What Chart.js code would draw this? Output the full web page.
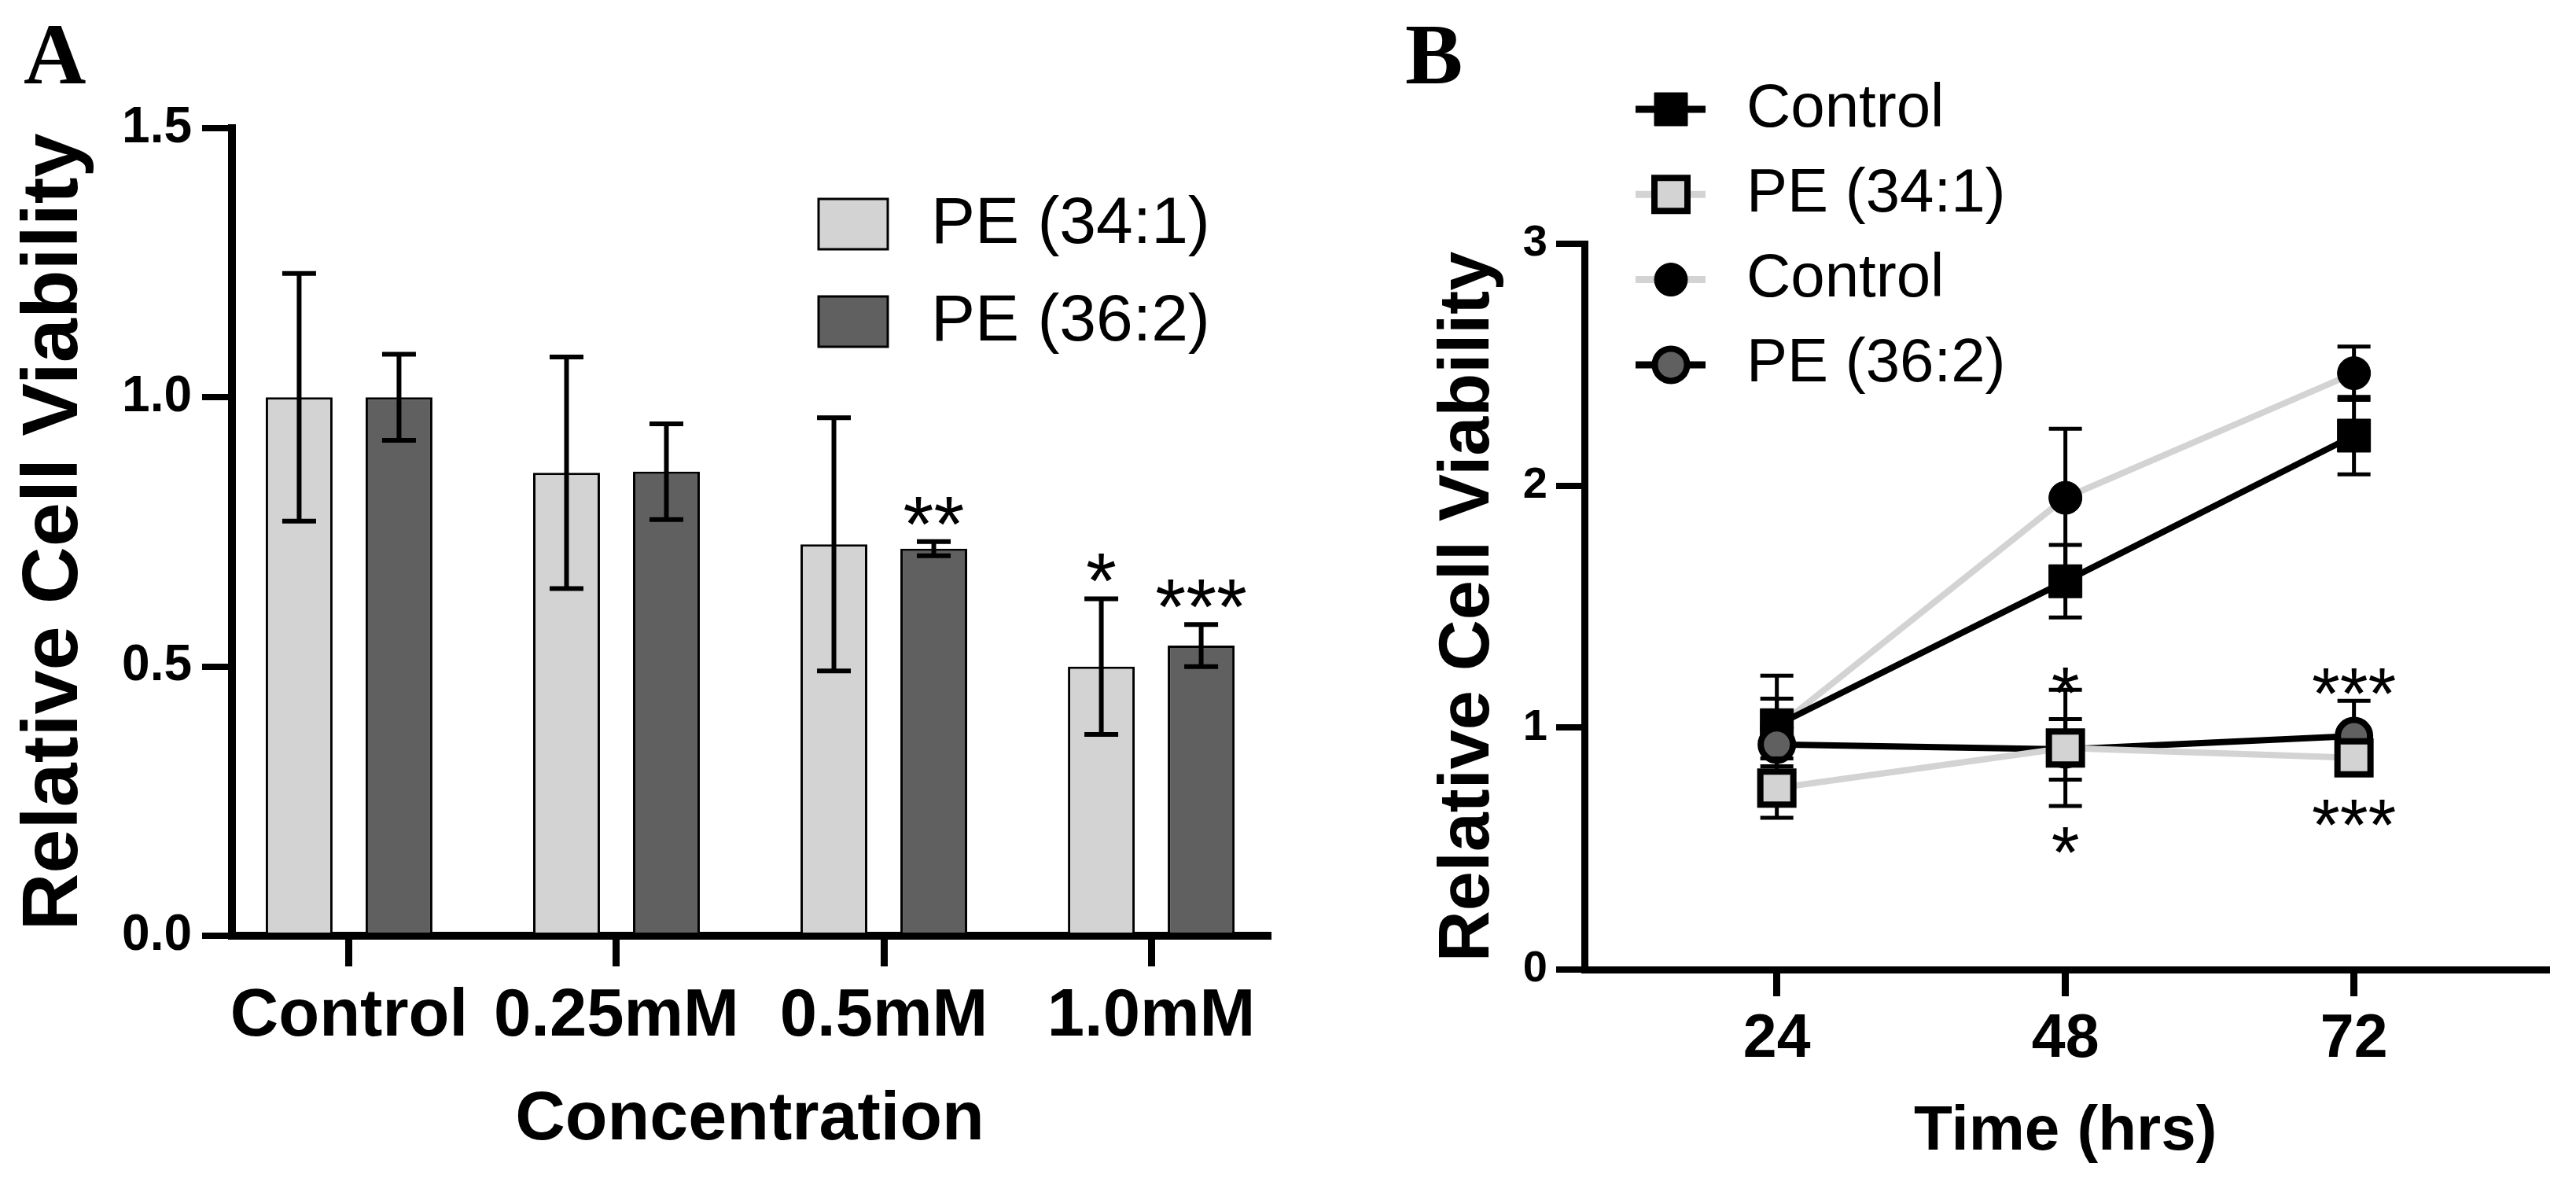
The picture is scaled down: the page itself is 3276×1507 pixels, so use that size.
<!DOCTYPE html>
<html>
<head>
<meta charset="utf-8">
<title>Relative Cell Viability</title>
<script src="https://cdn.jsdelivr.net/npm/chart.js@4.4.1/dist/chart.umd.min.js"></script>
<style>
  html, body { margin: 0; padding: 0; background: #fff; }
  body { width: 3276px; height: 1507px; position: relative; overflow: hidden; }
  #panelA { position: absolute; left: 0; top: 0; }
  #panelB { position: absolute; left: 1650px; top: 0; }
</style>
</head>
<body>
<canvas id="panelA" width="1650" height="1507"></canvas>
<canvas id="panelB" width="1626" height="1507"></canvas>
<script>
/* ---- Panel A data (bars, mean +/- error) ---- */
const concentrations = ['Control', '0.25mM', '0.5mM', '1.0mM'];
const pe341Mean = [1.00, 0.86, 0.727, 0.50];
const pe341Err  = [0.23, 0.215, 0.235, 0.126];
const pe362Mean = [1.00, 0.862, 0.719, 0.539];
const pe362Err  = [0.08, 0.089, 0.013, 0.039];
const pe341Stars = ['', '', '', '*'];
const pe362Stars = ['', '', '**', '***'];
const yTicksA = [0, 0.5, 1.0, 1.5];

/* ---- Panel B data (time course, mean +/- error) ---- */
const times = [24, 48, 72];
const ctrlSqMean = [1.01, 1.605, 2.207];
const ctrlSqErr  = [0.11, 0.15, 0.16];
const pe341TMean = [0.75, 0.916, 0.875];
const pe341TErr  = [0.123, 0.24, 0.04];
const ctrlCiMean = [1.00, 1.95, 2.465];
const ctrlCiErr  = [0.215, 0.285, 0.11];
const pe362TMean = [0.93, 0.91, 0.965];
const pe362TErr  = [0.09, 0.125, 0.146];
const yTicksB = [0, 1, 2, 3];
const starTimes  = [48, 48, 72, 72];
const starLevels = [1.21, 0.55, 1.207, 0.663];
const starText   = ['*', '*', '***', '***'];

const LIGHT = '#d3d3d3';
const DARK = '#606060';
const SANS = "'Liberation Sans', Arial, Helvetica, sans-serif";
const SERIF = "'Liberation Serif', 'Times New Roman', serif";

Chart.defaults.font.family = SANS;
Chart.defaults.color = '#000';

function drawMarker(ctx, style, x, y, r, fill, stroke, bw) {
    ctx.beginPath();
    if (style === 'rect') {
        const h = r * Math.SQRT1_2;
        ctx.rect(x - h, y - h, 2 * h, 2 * h);
    } else {
        ctx.arc(x, y, r, 0, Math.PI * 2);
    }
    ctx.fillStyle = fill;
    ctx.fill();
    if (bw > 0) {
        ctx.lineWidth = bw;
        ctx.strokeStyle = stroke;
        ctx.stroke();
    }
}

function errorBar(ctx, x, yTop, yBottom, halfCap, width) {
    ctx.lineWidth = width;
    ctx.strokeStyle = '#000';
    ctx.lineCap = 'butt';
    ctx.beginPath();
    ctx.moveTo(x, yTop);
    ctx.lineTo(x, yBottom);
    ctx.moveTo(x - halfCap, yTop);
    ctx.lineTo(x + halfCap, yTop);
    ctx.moveTo(x - halfCap, yBottom);
    ctx.lineTo(x + halfCap, yBottom);
    ctx.stroke();
}

/* error bars, asterisks, legend and panel letter for A */
const panelAExtras = {
    id: 'panelAExtras',
    afterDatasetsDraw(chart) {
        const ctx = chart.ctx;
        const y = chart.scales.y;
        ctx.save();
        chart.data.datasets.forEach((ds, di) => {
            const meta = chart.getDatasetMeta(di);
            meta.data.forEach((bar, i) => {
                const v = ds.data[i].y;
                const top = y.getPixelForValue(v + ds.errors[i]);
                const bottom = y.getPixelForValue(v - ds.errors[i]);
                errorBar(ctx, bar.x, top, bottom, 21.5, 6);
                if (ds.stars[i]) {
                    ctx.font = '100px ' + SANS;
                    ctx.fillStyle = '#000';
                    ctx.textAlign = 'center';
                    ctx.textBaseline = 'alphabetic';
                    ctx.fillText(ds.stars[i], bar.x, top + 12);
                }
            });
        });
        ctx.restore();
    },
    afterDraw(chart) {
        const ctx = chart.ctx;
        ctx.save();
        chart.data.datasets.forEach((ds, i) => {
            const top = 253 + i * 124;
            ctx.fillStyle = ds.backgroundColor;
            ctx.fillRect(1041, top, 88, 64);
            ctx.lineWidth = 3;
            ctx.strokeStyle = '#000';
            ctx.strokeRect(1041, top, 88, 64);
            ctx.fillStyle = '#000';
            ctx.font = '84px ' + SANS;
            ctx.textAlign = 'left';
            ctx.textBaseline = 'middle';
            ctx.fillText(ds.label, 1184, top + 33);
        });
        ctx.font = 'bold 110px ' + SERIF;
        ctx.textAlign = 'left';
        ctx.textBaseline = 'alphabetic';
        ctx.fillText('A', 30, 106);
        ctx.restore();
    }
};

new Chart(document.getElementById('panelA'), {
    type: 'bar',
    data: {
        datasets: [{
            label: 'PE (34:1)',
            data: concentrations.map((c, i) => ({ x: i, y: pe341Mean[i] })),
            errors: pe341Err,
            stars: pe341Stars,
            backgroundColor: LIGHT,
            borderColor: '#000',
            borderWidth: 3,
            categoryPercentage: 0.747,
            barPercentage: 0.669
        }, {
            label: 'PE (36:2)',
            data: concentrations.map((c, i) => ({ x: i, y: pe362Mean[i] })),
            errors: pe362Err,
            stars: pe362Stars,
            backgroundColor: DARK,
            borderColor: '#000',
            borderWidth: 3,
            categoryPercentage: 0.747,
            barPercentage: 0.669
        }]
    },
    options: {
        responsive: false,
        animation: false,
        devicePixelRatio: 1,
        layout: { padding: { left: 0, right: 38, top: 163, bottom: 0 } },
        plugins: { legend: { display: false }, tooltip: { enabled: false } },
        scales: {
            x: {
                type: 'linear',
                min: -0.438,
                max: 3.435,
                offset: false,
                afterBuildTicks: s => { s.ticks = concentrations.map((c, i) => ({ value: i })); },
                afterFit: s => { s.height = 1507 - 1190; },
                ticks: {
                    callback: v => concentrations[v],
                    font: { size: 85, weight: 'bold' },
                    color: '#000',
                    padding: 14,
                    maxRotation: 0,
                    autoSkip: false
                },
                grid: { offset: false, drawOnChartArea: false, tickLength: 39, tickWidth: 9, lineWidth: 9, tickColor: '#000' },
                border: { color: '#000', width: 10 },
                title: {
                    display: true,
                    text: 'Concentration',
                    font: { size: 88, weight: 'bold' },
                    color: '#000',
                    padding: { top: 0, bottom: 29 }
                }
            },
            y: {
                min: 0,
                max: 1.5,
                afterBuildTicks: s => { s.ticks = yTicksA.map(v => ({ value: v })); },
                afterFit: s => { s.width = 295; },
                ticks: {
                    callback: v => v.toFixed(1),
                    font: { size: 64, weight: 'bold' },
                    color: '#000',
                    padding: 13
                },
                grid: { drawOnChartArea: false, tickLength: 38, tickWidth: 8, lineWidth: 8, tickColor: '#000' },
                border: { color: '#000', width: 10 },
                title: {
                    display: true,
                    text: 'Relative Cell Viability',
                    font: { size: 101, weight: 'bold' },
                    color: '#000',
                    padding: { top: 10, bottom: 0 }
                }
            }
        }
    },
    plugins: [panelAExtras]
});

/* error bars (under each series), asterisks, legend and letter for B */
const panelBExtras = {
    id: 'panelBExtras',
    beforeDatasetDraw(chart, args) {
        const ctx = chart.ctx;
        const ds = chart.data.datasets[args.index];
        const y = chart.scales.y;
        ctx.save();
        args.meta.data.forEach((pt, i) => {
            const v = ds.data[i].y;
            errorBar(ctx, pt.x, y.getPixelForValue(v + ds.errors[i]), y.getPixelForValue(v - ds.errors[i]), 21, 5);
        });
        ctx.restore();
    },
    afterDatasetsDraw(chart) {
        const ctx = chart.ctx;
        const x = chart.scales.x;
        const y = chart.scales.y;
        ctx.save();
        ctx.font = '92px ' + SANS;
        ctx.fillStyle = '#000';
        ctx.textAlign = 'center';
        ctx.textBaseline = 'alphabetic';
        starText.forEach((s, i) => {
            ctx.fillText(s, x.getPixelForValue(starTimes[i]), y.getPixelForValue(starLevels[i]) + 0.57 * 92);
        });
        ctx.restore();
    },
    afterDraw(chart) {
        const ctx = chart.ctx;
        ctx.save();
        chart.data.datasets.forEach((ds, i) => {
            const rowY = 139 + i * 108.3;
            ctx.strokeStyle = ds.borderColor;
            ctx.lineWidth = 9;
            ctx.beginPath();
            ctx.moveTo(430, rowY);
            ctx.lineTo(519, rowY);
            ctx.stroke();
            drawMarker(ctx, ds.pointStyle, 475, rowY, ds.pointRadius,
                ds.pointBackgroundColor, ds.pointBorderColor, ds.pointBorderWidth);
            ctx.fillStyle = '#000';
            ctx.font = '78px ' + SANS;
            ctx.textAlign = 'left';
            ctx.textBaseline = 'middle';
            ctx.fillText(ds.label, 571, rowY);
        });
        ctx.fillStyle = '#000';
        ctx.font = 'bold 110px ' + SERIF;
        ctx.textAlign = 'left';
        ctx.textBaseline = 'alphabetic';
        ctx.fillText('B', 137, 106);
        ctx.restore();
    }
};

function series(label, means, errs, line, style, radius, fill, bw, order) {
    return {
        label: label,
        data: times.map((t, i) => ({ x: t, y: means[i] })),
        errors: errs,
        borderColor: line,
        borderWidth: 8,
        pointStyle: style,
        pointRadius: radius,
        pointHoverRadius: radius,
        pointBackgroundColor: fill,
        pointBorderColor: '#000',
        pointBorderWidth: bw,
        tension: 0,
        clip: false,
        order: order
    };
}

new Chart(document.getElementById('panelB'), {
    type: 'line',
    data: {
        datasets: [
            series('Control', ctrlSqMean, ctrlSqErr, '#000', 'rect', 29.7, '#000', 1, 3),
            series('PE (34:1)', pe341TMean, pe341TErr, LIGHT, 'rect', 29.7, LIGHT, 8, 1),
            series('Control', ctrlCiMean, ctrlCiErr, LIGHT, 'circle', 21, '#000', 1, 4),
            series('PE (36:2)', pe362TMean, pe362TErr, '#000', 'circle', 20.5, DARK, 8, 2)
        ]
    },
    options: {
        responsive: false,
        animation: false,
        devicePixelRatio: 1,
        layout: { padding: { left: 0, right: 31, top: 310, bottom: 0 } },
        plugins: { legend: { display: false }, tooltip: { enabled: false } },
        scales: {
            x: {
                type: 'linear',
                min: 8,
                max: 88,
                afterBuildTicks: s => { s.ticks = times.map(t => ({ value: t })); },
                afterFit: s => { s.height = 1507 - 1233; },
                ticks: {
                    callback: v => String(v),
                    font: { size: 77, weight: 'bold' },
                    color: '#000',
                    padding: 10,
                    maxRotation: 0,
                    autoSkip: false
                },
                grid: { drawOnChartArea: false, tickLength: 34, tickWidth: 9, lineWidth: 9, tickColor: '#000' },
                border: { color: '#000', width: 9 },
                title: {
                    display: true,
                    text: 'Time (hrs)',
                    font: { size: 80, weight: 'bold' },
                    color: '#000',
                    padding: { top: 0, bottom: 19 }
                }
            },
            y: {
                min: 0,
                max: 3,
                afterBuildTicks: s => { s.ticks = yTicksB.map(v => ({ value: v })); },
                afterFit: s => { s.width = 365; },
                ticks: {
                    callback: v => String(v),
                    font: { size: 56, weight: 'bold' },
                    color: '#000',
                    padding: 11
                },
                grid: { drawOnChartArea: false, tickLength: 36, tickWidth: 8, lineWidth: 8, tickColor: '#000' },
                border: { color: '#000', width: 9 },
                title: {
                    display: true,
                    text: 'Relative Cell Viability',
                    font: { size: 90, weight: 'bold' },
                    color: '#000',
                    padding: { top: 164, bottom: 0 }
                }
            }
        }
    },
    plugins: [panelBExtras]
});
</script>
</body>
</html>
